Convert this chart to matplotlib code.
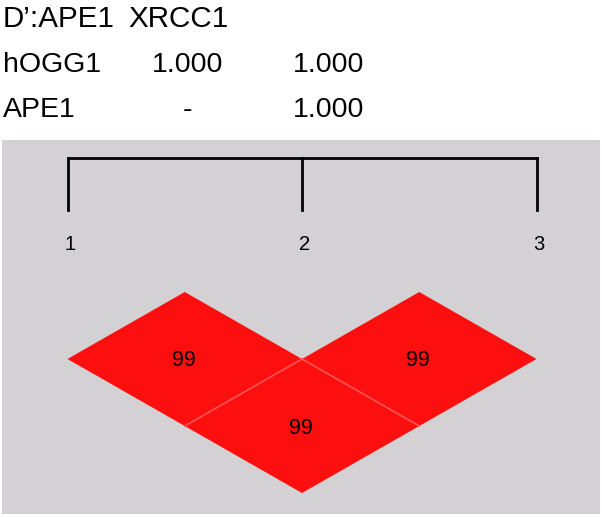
import matplotlib
matplotlib.use("Agg")
import matplotlib.pyplot as plt
from matplotlib.patches import Polygon, Rectangle

plt.rcParams['font.family'] = ['Liberation Sans', 'DejaVu Sans']

# ---- data ----
table_title = ["D’:APE1", "XRCC1"]
row_labels = ["hOGG1", "APE1"]
col_values = [["1.000", "1.000"], ["-", "1.000"]]
markers = ["1", "2", "3"]
ld_pairs = [(0, 1), (1, 2), (0, 2)]
ld_values = [99, 99, 99]

# ---- layout ----
W, H = 602, 517
fig = plt.figure(figsize=(W / 100, H / 100), dpi=100)
ax = fig.add_axes([0, 0, 1, 1])
ax.set_xlim(0, W)
ax.set_ylim(H, 0)
ax.axis('off')

# top D' table
fs_tab = 20.5
ax.text(3, 27, table_title[0], fontsize=21.3, ha='left', va='baseline')
ax.text(128, 27, table_title[1], fontsize=21.3, ha='left', va='baseline')
col_x = [187.5, 328.5]
for r, lab in enumerate(row_labels):
    yb = 72 + r * 45
    ax.text(3, yb, lab, fontsize=fs_tab, ha='left', va='baseline')
    for c, v in enumerate(col_values[r]):
        ax.text(col_x[c], yb, v, fontsize=fs_tab, ha='center', va='baseline')

# grey panel
ax.add_patch(Rectangle((2, 140), 598, 374, facecolor='#d3d1d4', edgecolor='none'))

# marker positions
x0, step = 67.5, 234.5
xs = [x0 + i * step for i in range(len(markers))]

# bracket
bar_y, tick_bot = 158, 210
ax.plot([xs[0], xs[-1]], [bar_y, bar_y], color='black', lw=2, solid_capstyle='projecting')
for x, m in zip(xs, markers):
    ax.plot([x, x], [bar_y, tick_bot], color='black', lw=2)
    ax.text(x + 2.5, 244, m, fontsize=14.5, ha='center', va='center')

# LD diamonds
hw = step / 2
hh = 67
y_row0 = 359
red = '#fe0f0f'
for (i, j), v in zip(ld_pairs, ld_values):
    cx = (xs[i] + xs[j]) / 2
    cy = y_row0 + (j - i - 1) * hh
    poly = Polygon([(cx - hw, cy), (cx, cy - hh), (cx + hw, cy), (cx, cy + hh)],
                   closed=True, facecolor=red, edgecolor='none')
    ax.add_patch(poly)
    if j - i > 1:
        ax.plot([cx - hw, cx, cx + hw], [cy, cy - hh, cy], color='#ff5555', lw=1.2)
    ax.text(cx - 1, cy + 2, str(v), fontsize=15.5, ha='center', va='center', color='black')

fig.savefig('out.png', dpi=100)
